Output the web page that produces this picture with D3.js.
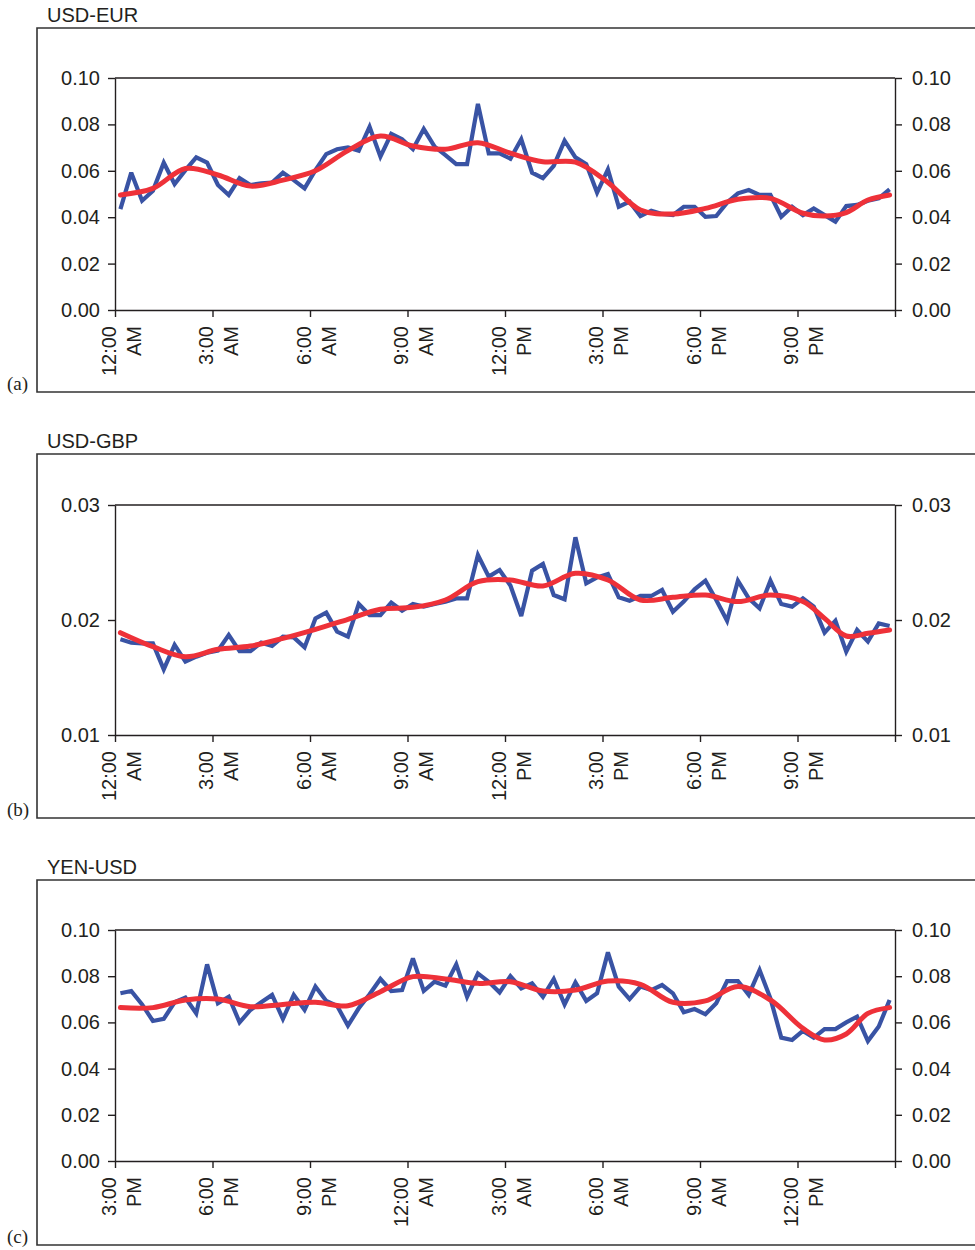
<!DOCTYPE html>
<html>
<head>
<meta charset="utf-8">
<script src="https://cdn.jsdelivr.net/npm/d3@7"></script>
<style>
  html, body { margin: 0; padding: 0; background: #fff; }
  svg { display: block; }
</style>
</head>
<body>
<svg id="chart" width="975" height="1250"></svg>
<script>
// ---------- DATA ----------
const titles = ["USD-EUR", "USD-GBP", "YEN-USD"];
const panelTags = ["(a)", "(b)", "(c)"];

const ticksDay = [["12:00","AM"],["3:00","AM"],["6:00","AM"],["9:00","AM"],["12:00","PM"],["3:00","PM"],["6:00","PM"],["9:00","PM"]];
const ticksYen = [["3:00","PM"],["6:00","PM"],["9:00","PM"],["12:00","AM"],["3:00","AM"],["6:00","AM"],["9:00","AM"],["12:00","PM"]];

const yTicksEur = [0.00, 0.02, 0.04, 0.06, 0.08, 0.10];
const yTicksGbp = [0.01, 0.02, 0.03];
const yTicksYen = [0.00, 0.02, 0.04, 0.06, 0.08, 0.10];

// 72 observations (20-minute intervals)
const eurRaw = [0.0435,0.0592,0.0471,0.0514,0.0635,0.0543,0.0603,0.0658,0.0635,0.0539,0.0496,0.0568,
  0.0539,0.0546,0.0549,0.0592,0.0560,0.0524,0.0603,0.0672,0.0693,0.0701,0.0687,0.0790,
  0.0661,0.0759,0.0736,0.0693,0.0780,0.0704,0.0668,0.0629,0.0629,0.0888,0.0675,0.0675,
  0.0652,0.0736,0.0592,0.0568,0.0621,0.0730,0.0658,0.0629,0.0506,0.0606,0.0445,0.0467,
  0.0405,0.0428,0.0414,0.0409,0.0445,0.0445,0.0402,0.0405,0.0463,0.0503,0.0517,0.0496,
  0.0496,0.0402,0.0445,0.0409,0.0438,0.0409,0.0381,0.0448,0.0453,0.0471,0.0481,0.0520];

const gbpRaw = [0.01832,0.01803,0.01797,0.01797,0.01571,0.01783,0.01638,0.01681,0.01716,0.01733,0.01870,0.01730,
  0.01730,0.01803,0.01774,0.01855,0.01849,0.01762,0.02014,0.02064,0.01899,0.01855,0.02139,0.02043,
  0.02043,0.02151,0.02081,0.02139,0.02116,0.02139,0.02160,0.02188,0.02188,0.02565,0.02377,0.02435,
  0.02300,0.02035,0.02429,0.02487,0.02217,0.02180,0.02719,0.02319,0.02371,0.02400,0.02197,0.02168,
  0.02209,0.02209,0.02261,0.02072,0.02160,0.02267,0.02342,0.02174,0.01994,0.02342,0.02188,0.02101,
  0.02342,0.02139,0.02116,0.02188,0.02116,0.01890,0.01994,0.01725,0.01913,0.01812,0.01971,0.01948];

const yenRaw = [0.0726,0.0736,0.0678,0.0606,0.0615,0.0687,0.0707,0.0639,0.0851,0.0683,0.0711,0.0600,
  0.0654,0.0687,0.0719,0.0615,0.0719,0.0654,0.0755,0.0693,0.0672,0.0586,0.0661,0.0722,
  0.0788,0.0736,0.0740,0.0877,0.0736,0.0776,0.0759,0.0851,0.0711,0.0812,0.0776,0.0730,
  0.0800,0.0747,0.0769,0.0711,0.0788,0.0678,0.0773,0.0693,0.0726,0.0903,0.0755,0.0701,
  0.0755,0.0740,0.0762,0.0726,0.0644,0.0658,0.0635,0.0683,0.0779,0.0779,0.0719,0.0827,
  0.0704,0.0534,0.0524,0.0563,0.0534,0.0571,0.0571,0.0600,0.0625,0.0519,0.0582,0.0697];

// smoothed trend, read at these observation indices
const trendIdx = [0,3,6,9,12,15,18,21,24,27,30,33,36,39,42,45,48,51,54,57,60,63,65,67,69,71];
const eurTrend = [0.0496,0.0524,0.0610,0.0582,0.0534,0.0560,0.0600,0.0687,0.0750,0.0707,0.0693,0.0721,
  0.0676,0.0639,0.0637,0.0550,0.0431,0.0414,0.0438,0.0477,0.0481,0.0417,0.0405,0.0420,0.0474,0.0496];
const gbpTrend = [0.01890,0.01768,0.01680,0.01745,0.01774,0.01840,0.01919,0.02006,0.02093,0.02110,0.02174,0.02333,
  0.02348,0.02296,0.02406,0.02348,0.02174,0.02197,0.02217,0.02160,0.02217,0.02160,0.02014,0.01861,0.01884,0.01913];
const yenTrend = [0.0664,0.0664,0.0697,0.0701,0.0668,0.0678,0.0687,0.0672,0.0733,0.0798,0.0788,0.0769,
  0.0776,0.0736,0.0740,0.0779,0.0765,0.0687,0.0693,0.0755,0.0697,0.0574,0.0524,0.0550,0.0639,0.0664];

// ---------- DRAW ----------
const panels = [
  {title: titles[0], tag: panelTags[0], raw: eurRaw, trend: eurTrend, xt: ticksDay, yt: yTicksEur, dom: [0, 0.10], fmt: d3.format(".2f"), top: 78, bottom: 310, boxTop: 28, boxBottom: 392},
  {title: titles[1], tag: panelTags[1], raw: gbpRaw, trend: gbpTrend, xt: ticksDay, yt: yTicksGbp, dom: [0.01, 0.03], fmt: d3.format(".2f"), top: 505, bottom: 735, boxTop: 454, boxBottom: 818},
  {title: titles[2], tag: panelTags[2], raw: yenRaw, trend: yenTrend, xt: ticksYen, yt: yTicksYen, dom: [0, 0.10], fmt: d3.format(".2f"), top: 930, bottom: 1161, boxTop: 880, boxBottom: 1245}
];

const svg = d3.select("#chart");
const left = 115, right = 895;
const axisColor = "#231f20";
const sans = "'Liberation Sans', Arial, Helvetica, sans-serif";

panels.forEach(p => {
  const g = svg.append("g");
  const n = p.raw.length;
  const x = d3.scaleLinear().domain([0, n]).range([left, right]);
  const y = d3.scaleLinear().domain(p.dom).range([p.bottom, p.top]);

  // outer frame
  g.append("path")
    .attr("d", `M980,${p.boxTop}H37V${p.boxBottom}H980`)
    .attr("fill", "none").attr("stroke", "#333").attr("stroke-width", 1.6);

  // title
  g.append("text").attr("x", 47).attr("y", p.boxTop - 6)
    .attr("font-family", sans).attr("font-size", 20).attr("fill", "#231f20")
    .text(p.title);

  // tag
  g.append("text").attr("x", 7).attr("y", p.boxBottom - 2)
    .attr("font-family", "'Liberation Serif', 'Times New Roman', serif").attr("font-size", 19).attr("fill", "#231f20")
    .text(p.tag);

  // top border of plot area
  g.append("line").attr("x1", left).attr("x2", right).attr("y1", p.top).attr("y2", p.top)
    .attr("stroke", axisColor).attr("stroke-width", 1.4);

  // y axes
  const yl = g.append("g").attr("transform", `translate(${left},0)`)
    .call(d3.axisLeft(y).tickValues(p.yt).tickFormat(p.fmt).tickSize(7).tickSizeOuter(0).tickPadding(8));
  const yr = g.append("g").attr("transform", `translate(${right},0)`)
    .call(d3.axisRight(y).tickValues(p.yt).tickFormat(p.fmt).tickSize(7).tickSizeOuter(0).tickPadding(10));
  [yl, yr].forEach(a => {
    a.selectAll("path, line").attr("stroke", axisColor).attr("stroke-width", 1.4);
    a.selectAll("text").attr("font-family", sans).attr("font-size", 20).attr("fill", "#231f20");
  });

  // x axis
  const tickPos = d3.range(0, n + 1, 9);
  const xa = g.append("g").attr("transform", `translate(0,${p.bottom})`)
    .call(d3.axisBottom(x).tickValues(tickPos).tickFormat("").tickSize(7).tickSizeOuter(0));
  xa.selectAll("path, line").attr("stroke", axisColor).attr("stroke-width", 1.4);
  xa.selectAll(".tick").each(function(d, i) {
    const lab = p.xt[i];
    if (!lab) return;
    const t = d3.select(this);
    t.select("text").remove();
    lab.forEach((s, k) => {
      t.append("text")
        .attr("transform", `translate(${k === 0 ? 0 : 25},16) rotate(-90)`)
        .attr("text-anchor", "end")
        .attr("font-family", sans).attr("font-size", 20).attr("fill", "#231f20")
        .text(s);
    });
  });

  // raw series
  const lineRaw = d3.line().x((d, i) => x(i + 0.5)).y(d => y(d));
  g.append("path").datum(p.raw)
    .attr("d", lineRaw)
    .attr("fill", "none").attr("stroke", "#3953a4").attr("stroke-width", 4.2)
    .attr("stroke-linejoin", "miter").attr("stroke-miterlimit", 3);

  // trend
  const lineTrend = d3.line().x((d, i) => x(trendIdx[i] + 0.5)).y(d => y(d)).curve(d3.curveCatmullRom.alpha(0.5));
  g.append("path").datum(p.trend)
    .attr("d", lineTrend)
    .attr("fill", "none").attr("stroke", "#ee3139").attr("stroke-width", 5)
    .attr("stroke-linecap", "round").attr("stroke-linejoin", "round");
});
</script>
</body>
</html>
